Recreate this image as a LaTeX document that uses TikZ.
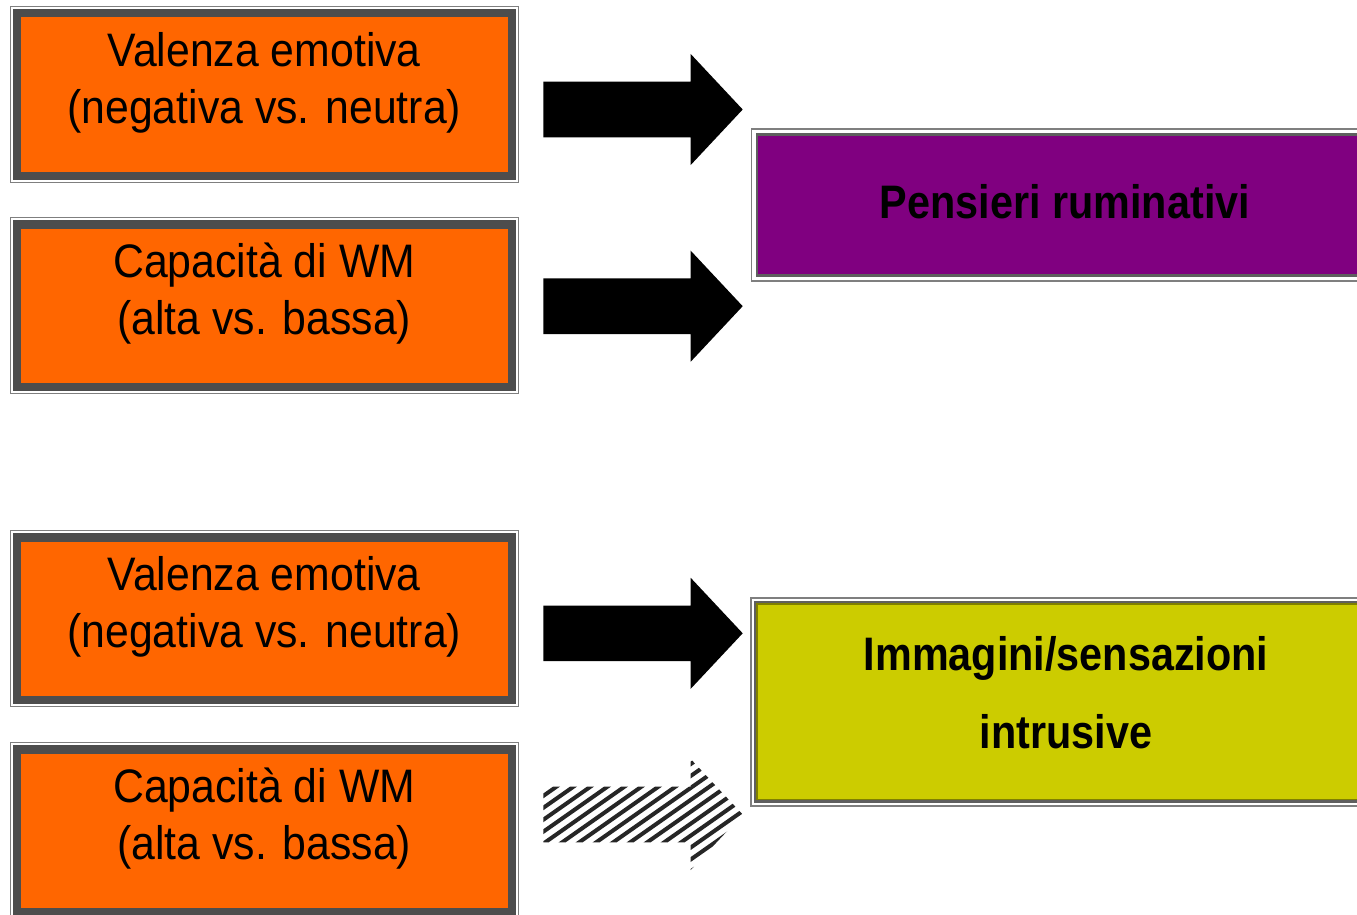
\documentclass[tikz,border=0pt]{standalone}
\usepackage{fontspec}
\setmainfont{Liberation Sans}
\newfontfamily\regf{Liberation Sans}[FakeStretch=0.91]
\newfontfamily\boldf{Liberation Sans}[FakeStretch=0.88]
\definecolor{boxorange}{HTML}{FF6600}
\definecolor{boxpurple}{HTML}{800080}
\definecolor{boxyellow}{HTML}{CCCC00}
\definecolor{borderdark}{HTML}{4D4D4D}
\definecolor{bordergray}{HTML}{5F5F5F}
\definecolor{outlinegray}{HTML}{7F7F7F}
\definecolor{oliveline}{HTML}{7F7F00}
\tikzset{
  obox/.style={rectangle, minimum width=495pt, minimum height=162.5pt, inner sep=0pt,
    fill=boxorange, draw=borderdark, line width=8.5pt,
    preaction={draw=outlinegray, line width=14.5pt},
    preaction={draw=white, line width=12pt}},
  pbox/.style={rectangle, inner sep=0pt, fill=boxpurple, draw=bordergray, line width=2.5pt,
    preaction={draw=outlinegray, line width=12.5pt},
    preaction={draw=white, line width=9.5pt}},
  ybox/.style={rectangle, inner sep=0pt, fill=boxyellow, draw=oliveline, line width=1.5pt,
    preaction={draw=outlinegray, line width=14pt},
    preaction={draw=white, line width=11pt},
    preaction={draw=bordergray, line width=7pt}},
  otext/.style={align=center, inner sep=0pt, font=\regf\fontsize{47}{57}\selectfont},
  btext/.style={align=center, inner sep=0pt, font=\boldf\bfseries\fontsize{47}{57}\selectfont},
  blockarrow/.pic={
    \fill[black] (0,-27.8) -- (147.4,-27.8) -- (147.4,-55.5) -- (199.4,0)
      -- (147.4,55.5) -- (147.4,27.8) -- (0,27.8) -- cycle;},
  hatcharrow/.pic={
    \begin{scope}
      \clip (0,-27.8) -- (147.4,-27.8) -- (147.4,-55.5) -- (199.4,0)
        -- (147.4,55.5) -- (147.4,27.8) -- (0,27.8) -- cycle;
      \foreach \s in {-180,-163,...,220}
        \draw[line width=4pt, black!85] (\s,60) -- ++(171,-120);
    \end{scope}}
}
\begin{document}
\begin{tikzpicture}[x=1pt, y=-1pt]
\useasboundingbox (0,0) rectangle (1357,915);
\clip (0,0) rectangle (1357,915);
\fill[white] (0,0) rectangle (1357,915);

% orange boxes
\node[obox] (b1) at (264.25,94.5) {};
\node[obox] (b2) at (264.25,305.5) {};
\node[obox] (b3) at (264.25,618.5) {};
\node[obox] (b4) at (264.25,830.5) {};
\node[otext] (t1) at (264.25,83.6) {\strut Valenza emotiva\\\strut (negativa vs. neutra)};
\node[otext] (t2) at (264.25,294.6) {\strut Capacità di WM\\\strut (alta vs. bassa)};
\node[otext] (t3) at (264.25,607.6) {\strut Valenza emotiva\\\strut (negativa vs. neutra)};
\node[otext] (t4) at (264.25,819.6) {\strut Capacità di WM\\\strut (alta vs. bassa)};

% outcome boxes
\node[pbox, minimum width=616.6pt, minimum height=141pt] (p) at (1065.5,205) {};
\node[btext] (tp) at (1065,206.6) {\strut Pensieri ruminativi};
\node[ybox, minimum width=616pt, minimum height=195.7pt] (y) at (1065,701.85) {};
\node[btext, font=\boldf\bfseries\fontsize{47}{78}\selectfont] (ty) at (1066,693.4)
  {\strut Immagini/sensazioni\\\strut intrusive};

% arrows
\pic (a1) at (543.3,109.5) {blockarrow};
\pic (a2) at (543.3,306.2) {blockarrow};
\pic (a3) at (543.3,633.3) {blockarrow};
\pic (a4) at (543.3,814.5) {hatcharrow};
\end{tikzpicture}
\end{document}
